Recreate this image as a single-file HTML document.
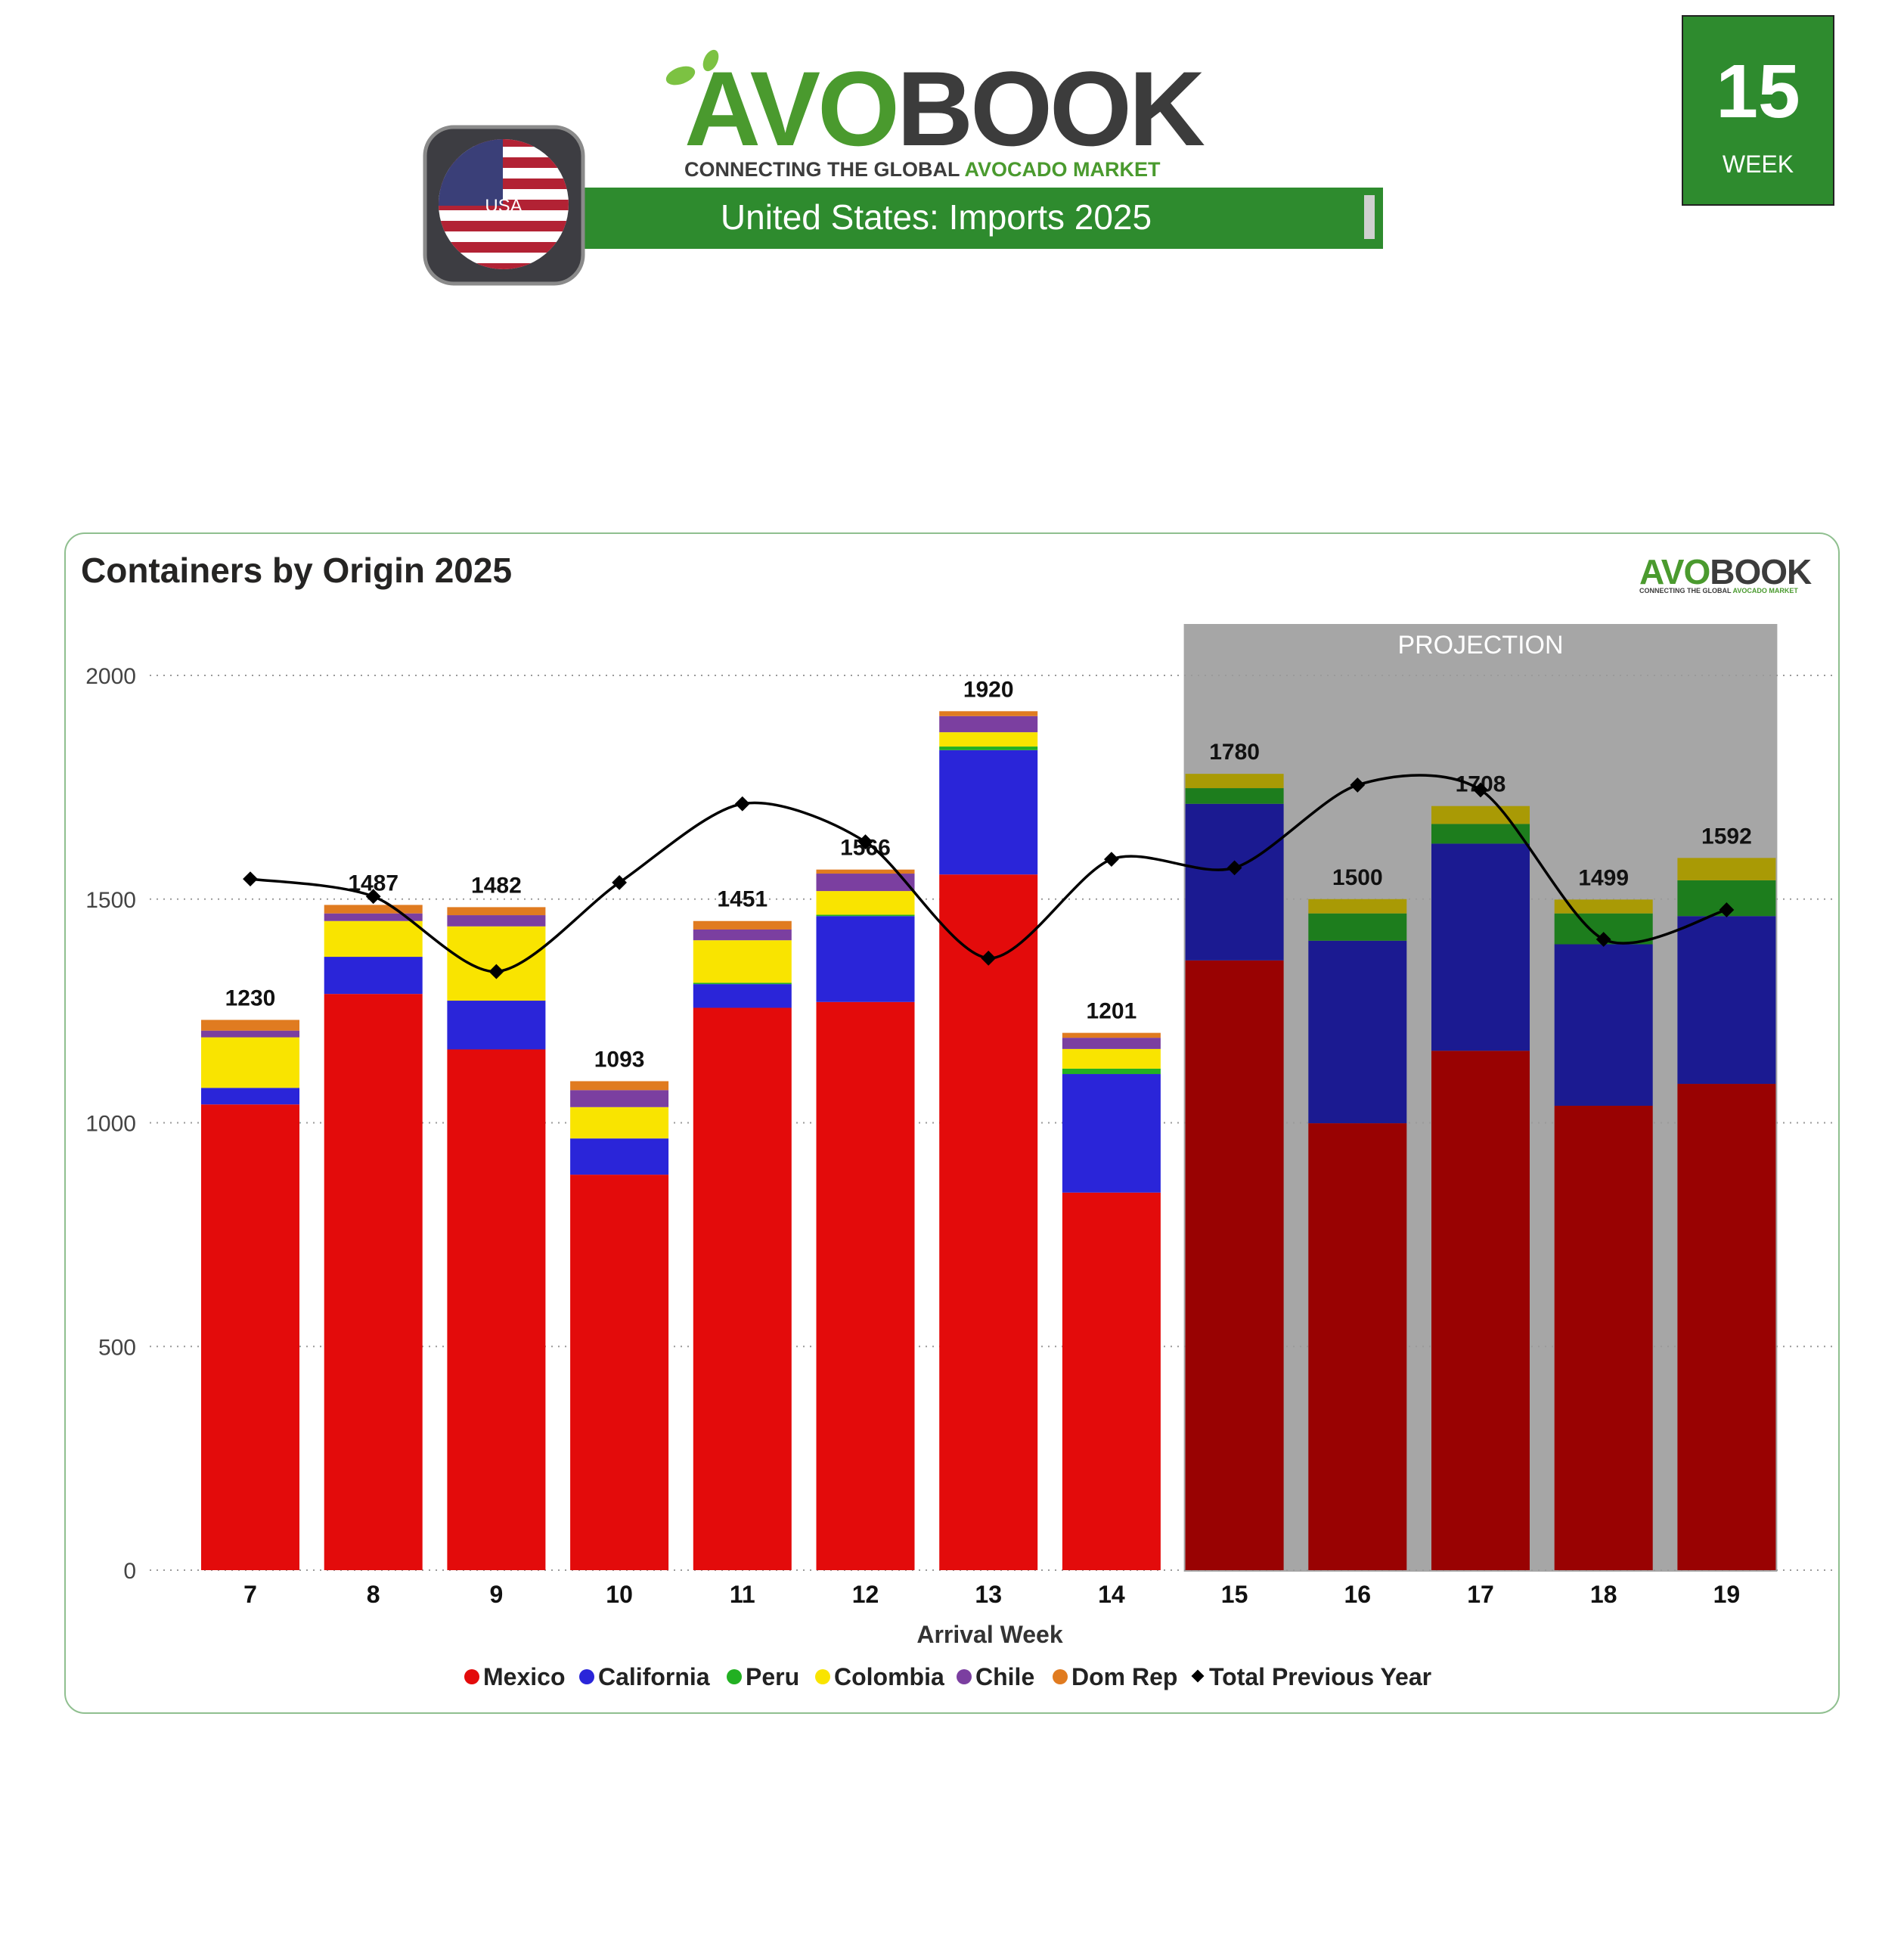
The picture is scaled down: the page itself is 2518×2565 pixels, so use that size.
<!DOCTYPE html>
<html><head><meta charset="utf-8">
<style>
html,body{margin:0;padding:0;background:#fff;}
body{width:2518px;height:2560px;overflow:hidden;font-family:"Liberation Sans",sans-serif;}
</style></head>
<body>
<svg id="root" width="2518" height="2560" viewBox="0 0 2518 2560" xmlns="http://www.w3.org/2000/svg" font-family="Liberation Sans, DejaVu Sans, sans-serif">
  <defs>
    <clipPath id="flagclip"><circle cx="666" cy="270" r="86"/></clipPath>
  </defs>
  <g>
    <ellipse cx="900" cy="100" rx="20" ry="11" fill="#7cc242" transform="rotate(-20 900 100)"/>
    <ellipse cx="940" cy="80" rx="9" ry="15" fill="#7cc242" transform="rotate(25 940 80)"/>
    <text x="905" y="192" font-size="140" font-weight="bold" fill="#4a9a2e" letter-spacing="-4">AVO<tspan fill="#3c3c3c">BOOK</tspan></text>
    <text x="905" y="233" font-size="27" font-weight="bold" fill="#3c3c3c">CONNECTING THE GLOBAL <tspan fill="#4a9a2e">AVOCADO MARKET</tspan></text>
  </g>
  <rect x="766" y="248" width="1063" height="81" fill="#2e8b2e"/>
  <rect x="1804" y="258" width="14" height="58" fill="#d0d0d0"/>
  <text x="1238" y="303" font-size="46" fill="#fff" text-anchor="middle">United States: Imports 2025</text>
  <g>
    <rect x="562" y="168" width="209" height="207" rx="38" fill="#3d3d42" stroke="#8a8a8a" stroke-width="5"/>
    <g clip-path="url(#flagclip)">
      <rect x="570" y="180" width="200" height="180" fill="#fff"/>
      <g id="stripes"></g>
      <rect x="570" y="180" width="95" height="92" fill="#3a3f78"/>
    </g>
    <text x="666" y="280" font-size="24" fill="#fff" text-anchor="middle">USA</text>
  </g>
  <g>
    <rect x="2225" y="21" width="200" height="250" fill="#2e8b2e" stroke="#222" stroke-width="2"/>
    <text x="2325" y="155" font-size="100" font-weight="bold" fill="#fff" text-anchor="middle">15</text>
    <text x="2325" y="228" font-size="32" fill="#fff" text-anchor="middle">WEEK</text>
  </g>
  <rect x="86" y="705" width="2346" height="1560" rx="26" fill="#fff" stroke="#8fbf8f" stroke-width="2"/>
  <text x="107" y="770" font-size="46" font-weight="bold" fill="#252423">Containers by Origin 2025</text>
  <g>
    <text x="2168" y="772" font-size="46" font-weight="bold" fill="#4a9a2e" letter-spacing="-1">AVO<tspan fill="#3c3c3c">BOOK</tspan></text>
    <text x="2168" y="784" font-size="9" font-weight="bold" fill="#3c3c3c">CONNECTING THE GLOBAL <tspan fill="#4a9a2e">AVOCADO MARKET</tspan></text>
  </g>
  <g id="chart"></g>
</svg>
<script>
const weeks = ['7','8','9','10','11','12','13','14','15','16','17','18','19'];
const mexico     = [1041,1288,1164,884,1257,1270,1555,844,1363,999,1161,1038,1087];
const california = [37,83,109,81,53,192,278,265,350,408,463,361,375];
const peru       = [0,0,0,0,3,3,8,12,35,61,44,69,80];
const colombia   = [113,80,166,70,95,53,32,44,32,32,40,31,50];
const chile      = [15,17,25,38,24,39,36,25,0,0,0,0,0];
const domRep     = [24,19,18,20,19,9,11,11,0,0,0,0,0];
const totals     = [1230,1487,1482,1093,1451,1566,1920,1201,1780,1500,1708,1499,1592];
const prevYear   = [1545,1506,1338,1537,1713,1628,1368,1589,1570,1755,1744,1410,1476];
const yTicks     = [0,500,1000,1500,2000];
const projStart = 8;

const NS='http://www.w3.org/2000/svg';
const g=document.getElementById('chart');
function mk(tag,attrs,parent){const e=document.createElementNS(NS,tag);for(const k in attrs)e.setAttribute(k,attrs[k]);(parent||g).appendChild(e);return e;}
const y=v=>2076 - v*0.5915;
const x=i=>331 + i*162.7;
const bw=130;

const st=document.getElementById('stripes');
for(let s=0;s<13;s+=2){mk('rect',{x:570,y:180+s*14,width:200,height:14,fill:'#b22234'},st);}
for(let r=0;r<5;r++)for(let c=0;c<6;c++){mk('circle',{cx:580+c*15+(r%2)*7,cy:192+r*17,r:2.5,fill:'#fff'},st);}

const pr=mk('rect',{x:x(projStart)-bw/2-2,y:825,width:x(12)+bw/2+2-(x(projStart)-bw/2-2),height:2078-825,fill:'#a6a6a6'});


const pt=mk('text',{x:(x(projStart)+x(12))/2,y:864,'font-size':34,fill:'#fff','text-anchor':'middle'});
pt.textContent='PROJECTION';



yTicks.forEach(t=>{
  const l=mk('line',{x1:198,x2:2428,y1:y(t),y2:y(t),stroke:'#9a9a9a','stroke-width':2,'stroke-dasharray':'2 7'});
  
  
  const tx=mk('text',{x:180,y:y(t)+11,'font-size':30,fill:'#444','text-anchor':'end'});
  tx.textContent=t;
  
  
});

const series=[
 {name:'mexico',data:mexico,c:'#e30b0b',pc:'#990202'},
 {name:'california',data:california,c:'#2a25d9',pc:'#1b1a91'},
 {name:'peru',data:peru,c:'#22b022',pc:'#1d7d1d'},
 {name:'colombia',data:colombia,c:'#f9e400',pc:'#a99a05'},
 {name:'chile',data:chile,c:'#7b3fa0',pc:'#5a2f78'},
 {name:'dom-rep',data:domRep,c:'#e07b20',pc:'#a35a18'}
];
weeks.forEach((w,i)=>{
  let acc=0;
  series.forEach(s=>{
    const v=s.data[i]; if(!v) return;
    const r=mk('rect',{x:x(i)-bw/2,y:y(acc+v),width:bw,height:y(acc)-y(acc+v),fill:i>=projStart?s.pc:s.c});
    
    
    acc+=v;
  });
  const lb=mk('text',{x:x(i),y:y(totals[i])-19,'font-size':30,'font-weight':'bold',fill:'#111','text-anchor':'middle'});
  lb.textContent=totals[i];
  
  
  const xt=mk('text',{x:x(i),y:2119,'font-size':32,'font-weight':'bold',fill:'#111','text-anchor':'middle'});
  xt.textContent=w;
  
  
});

const pts=prevYear.map((v,i)=>[x(i),y(v)]);
let d='M'+pts[0][0]+','+pts[0][1];
for(let i=0;i<pts.length-1;i++){
  const p0=pts[Math.max(i-1,0)],p1=pts[i],p2=pts[i+1],p3=pts[Math.min(i+2,pts.length-1)];
  const t=0.14;
  d+=' C'+(p1[0]+(p2[0]-p0[0])*t)+','+(p1[1]+(p2[1]-p0[1])*t)+' '+(p2[0]-(p3[0]-p1[0])*t)+','+(p2[1]-(p3[1]-p1[1])*t)+' '+p2[0]+','+p2[1];
}
const ln=mk('path',{d:d,fill:'none',stroke:'#000','stroke-width':3.5});


pts.forEach((p,i)=>{
  const m=mk('rect',{x:p[0]-7,y:p[1]-7,width:14,height:14,fill:'#000',transform:'rotate(45 '+p[0]+' '+p[1]+')'});
  
  
});

const at=mk('text',{x:1309,y:2172,'font-size':32,'font-weight':'bold',fill:'#333','text-anchor':'middle'});
at.textContent='Arrival Week';



const legend=[['Mexico','#e30b0b',false],['California','#2a25d9',false],['Peru','#22b022',false],['Colombia','#f9e400',false],['Chile','#7b3fa0',false],['Dom Rep','#e07b20',false],['Total Previous Year','#000',true]];
const widths=[115,158,80,150,90,145,300];
let lx=612;
legend.forEach((e,i)=>{
  let m;
  if(e[2]) m=mk('rect',{x:lx+6,y:2210,width:12,height:12,fill:'#000',transform:'rotate(45 '+(lx+12)+' 2216)'});
  else m=mk('circle',{cx:lx+12,cy:2217,r:10,fill:e[1]});
  
  
  const t=mk('text',{x:lx+27,y:2228,'font-size':32,'font-weight':'bold',fill:'#222'});
  t.textContent=e[0];
  
  
  lx+=27+widths[i]+10;
});
</script>
</body></html>
